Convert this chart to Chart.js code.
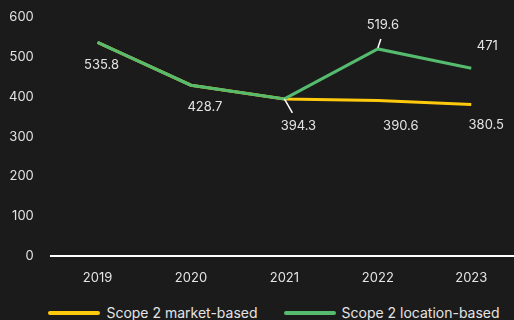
<!DOCTYPE html>
<html>
<head>
<meta charset="utf-8">
<script src="https://cdn.jsdelivr.net/npm/chart.js@4.4.1/dist/chart.umd.min.js"></script>
<style>
    html, body { margin: 0; padding: 0; background: #1b1b1b; }
    #wrap { position: relative; width: 514px; height: 320px; overflow: hidden; }
    #plot { position: absolute; left: 0; top: 0; width: 518px; height: 292px; }
    #legend {
        position: absolute; left: 0; top: 304px; width: 514px;
        display: flex; justify-content: center; gap: 26px;
        padding-left: 34px; box-sizing: border-box;
        font: 14px Inter, sans-serif; color: #e4e4e4;
    }
    .item { display: flex; align-items: center; white-space: nowrap; }
    .swatch { width: 52px; height: 4px; border-radius: 2px; margin-right: 6px; }
</style>
</head>
<body>
<div id="wrap">
    <div id="plot"><canvas id="scopeChart"></canvas></div>
    <div id="legend"></div>
</div>
<script>
const years = ["2019", "2020", "2021", "2022", "2023"];
const marketBased = [535.8, 428.7, 394.3, 390.6, 380.5];
const locationBased = [535.8, 428.7, 394.3, 519.6, 471];
const yTicks = [0, 100, 200, 300, 400, 500, 600];
const seriesNames = ["Scope 2 market-based", "Scope 2 location-based"];
const seriesColors = ["#ffc90e", "#55bb6e"];

// label placement per dataset/point: [dx, dy, leader line?]; null = no label
const labelSpots = [
    [null, null, null, [23, 26, false], [15, 21, false]],
    [[4, 23, false], [14, 22, false], [14, 27, true], [5, -24, true], [16, -22, false]]
];

const textColor = "#e4e4e4";

const pointLabels = {
    id: "pointLabels",
    afterDatasetsDraw(chart) {
        const ctx = chart.ctx;
        ctx.save();
        ctx.font = "13px Inter";
        ctx.fillStyle = textColor;
        ctx.textAlign = "center";
        ctx.textBaseline = "middle";
        chart.data.datasets.forEach((ds, di) => {
            const meta = chart.getDatasetMeta(di);
            meta.data.forEach((pt, i) => {
                const spot = labelSpots[di][i];
                if (!spot) return;
                const [dx, dy, leader] = spot;
                if (leader) {
                    ctx.strokeStyle = "#ffffff";
                    ctx.lineWidth = 1.5;
                    ctx.beginPath();
                    if (dy > 0) {
                        ctx.moveTo(pt.x, pt.y);
                        ctx.lineTo(pt.x + 8, pt.y + 14);
                    } else {
                        ctx.moveTo(pt.x, pt.y - 1);
                        ctx.lineTo(pt.x + 3, pt.y - 10);
                    }
                    ctx.stroke();
                }
                ctx.fillText(String(ds.data[i]), pt.x + dx, pt.y + dy);
            });
        });
        ctx.restore();
    }
};

new Chart(document.getElementById("scopeChart"), {
    type: "line",
    data: {
        labels: years,
        datasets: [
            {
                label: seriesNames[0],
                data: marketBased,
                borderColor: seriesColors[0],
                backgroundColor: seriesColors[0],
                borderWidth: 3,
                pointRadius: 0,
                tension: 0,
                order: 2
            },
            {
                label: seriesNames[1],
                data: locationBased,
                borderColor: seriesColors[1],
                backgroundColor: seriesColors[1],
                borderWidth: 3,
                pointRadius: 0,
                tension: 0,
                order: 1
            }
        ]
    },
    options: {
        responsive: true,
        maintainAspectRatio: false,
        animation: false,
        layout: { padding: { top: 1, right: 0, left: 0, bottom: 0 } },
        plugins: {
            tooltip: { enabled: false },
            legend: { display: false }
        },
        scales: {
            x: {
                offset: true,
                grid: { display: false },
                border: { display: true, color: "#ffffff", width: 2 },
                ticks: {
                    color: textColor,
                    font: { family: "Inter", size: 13 },
                    padding: 6
                }
            },
            y: {
                min: 0,
                max: 600,
                grid: { display: false },
                border: { display: false },
                afterBuildTicks(axis) {
                    axis.ticks = yTicks.map(v => ({ value: v }));
                },
                ticks: {
                    color: textColor,
                    font: { family: "Inter", size: 13 },
                    padding: 9
                }
            }
        }
    },
    plugins: [pointLabels]
});

// legend below the plot
const legendBox = document.getElementById("legend");
seriesNames.forEach((name, i) => {
    const item = document.createElement("div");
    item.className = "item";
    item.innerHTML = `<span class="swatch" style="background:${seriesColors[i]}"></span><span>${name}</span>`;
    legendBox.appendChild(item);
});
</script>
</body>
</html>
